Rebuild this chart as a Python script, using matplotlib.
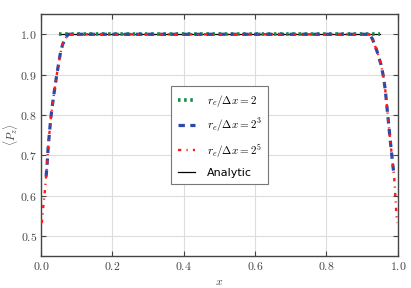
import numpy as np
import matplotlib
matplotlib.use("Agg")
import matplotlib.pyplot as plt
from matplotlib.ticker import FuncFormatter

plt.rcParams["mathtext.fontset"] = "cm"
plt.rcParams["font.family"] = ["DejaVu Sans"]

# ── Data ────────────────────────────────────────────────────────────────────
# r_e/dx = 2 : flat at 1 over the interior
green_x = [0.05, 0.95]
green_y = [1.0, 1.0]

# r_e/dx = 2^3
blue_x = [0.014, 0.017, 0.0196, 0.023, 0.027, 0.031, 0.036, 0.044, 0.053,
          0.060, 0.068, 0.076,
          0.920, 0.929, 0.942, 0.953, 0.960, 0.965, 0.969, 0.973, 0.977,
          0.981, 0.985, 0.989]
blue_y = [0.647, 0.680, 0.717, 0.752, 0.790, 0.820, 0.852, 0.900, 0.948,
          0.974, 0.990, 1.000,
          1.000, 0.988, 0.957, 0.924, 0.893, 0.860, 0.824, 0.788, 0.752,
          0.717, 0.684, 0.651]

# r_e/dx = 2^5
red_x = [0.002, 0.0047, 0.0065, 0.009, 0.011, 0.014, 0.017, 0.0196, 0.023,
         0.027, 0.031, 0.036, 0.044, 0.053, 0.060, 0.068, 0.076,
         0.920, 0.929, 0.942, 0.953, 0.960, 0.965, 0.969, 0.973, 0.977,
         0.981, 0.985, 0.989, 0.991, 0.9935, 0.996, 0.998]
red_y = [0.532, 0.556, 0.577, 0.598, 0.615, 0.647, 0.680, 0.717, 0.752,
         0.790, 0.820, 0.852, 0.900, 0.948, 0.974, 0.990, 1.000,
         1.000, 0.988, 0.957, 0.924, 0.893, 0.860, 0.824, 0.788, 0.752,
         0.717, 0.684, 0.651, 0.630, 0.589, 0.552, 0.532]

analytic_x = [0.05, 0.95]
analytic_y = [1.0, 1.0]

xticks = [0.0, 0.2, 0.4, 0.6, 0.8, 1.0]
yticks = [0.5, 0.6, 0.7, 0.8, 0.9, 1.0]

# ── Figure ───────────────────────────────────────────────────────────────────
fig, ax = plt.subplots(figsize=(4.11, 2.88), dpi=100)
fig.subplots_adjust(left=0.100, right=0.968, top=0.951, bottom=0.111)

ax.plot(analytic_x, analytic_y, "-", color="black", lw=0.9, label="Analytic",
        zorder=2.5)
ax.plot(green_x, green_y, ls=(0, (0.7, 1.0)), color="#138a45", lw=2.6,
        label=r"$r_e/\Delta x = 2$", zorder=3)
ax.plot(blue_x, blue_y, ls=(0, (2.0, 1.7)), color="#2b4aa8", lw=2.3,
        label=r"$r_e/\Delta x = 2^3$", zorder=4)
ax.plot(red_x, red_y, ls=(0, (1.4, 2.2, 0.5, 2.2)), color="#ff1a1a", lw=1.7,
        label=r"$r_e/\Delta x = 2^5$", zorder=5)

ax.set_xlim(0.0, 1.0)
ax.set_ylim(0.45, 1.05)
ax.set_xticks(xticks)
ax.set_yticks(yticks)
fmt = FuncFormatter(lambda v, _: r"$%.1f$" % v)
ax.xaxis.set_major_formatter(fmt)
ax.yaxis.set_major_formatter(fmt)
ax.tick_params(direction="in", top=True, right=True, length=3.5, width=0.8,
               labelsize=8.5, colors="#444444", pad=3)
for s in ax.spines.values():
    s.set_color("#444444")
    s.set_linewidth(1.0)
ax.grid(True, color="#dddddd", lw=0.8)
ax.set_axisbelow(True)

ax.set_xlabel(r"$x$", fontsize=8.5, color="#444444", labelpad=1)
ax.set_ylabel(r"$\langle P_z \rangle$", fontsize=8, color="#444444")
ax.yaxis.set_label_coords(-0.06, 0.5)

handles, labels = ax.get_legend_handles_labels()
order = [1, 2, 3, 0]
leg = ax.legend([handles[i] for i in order], [labels[i] for i in order],
                loc="center", fontsize=8, fancybox=False, framealpha=1.0,
                edgecolor="#777777", handlelength=1.6, borderpad=0.6,
                labelspacing=0.7, handletextpad=1.0)
leg.get_frame().set_linewidth(0.8)

fig.savefig("out.png", dpi=100)
